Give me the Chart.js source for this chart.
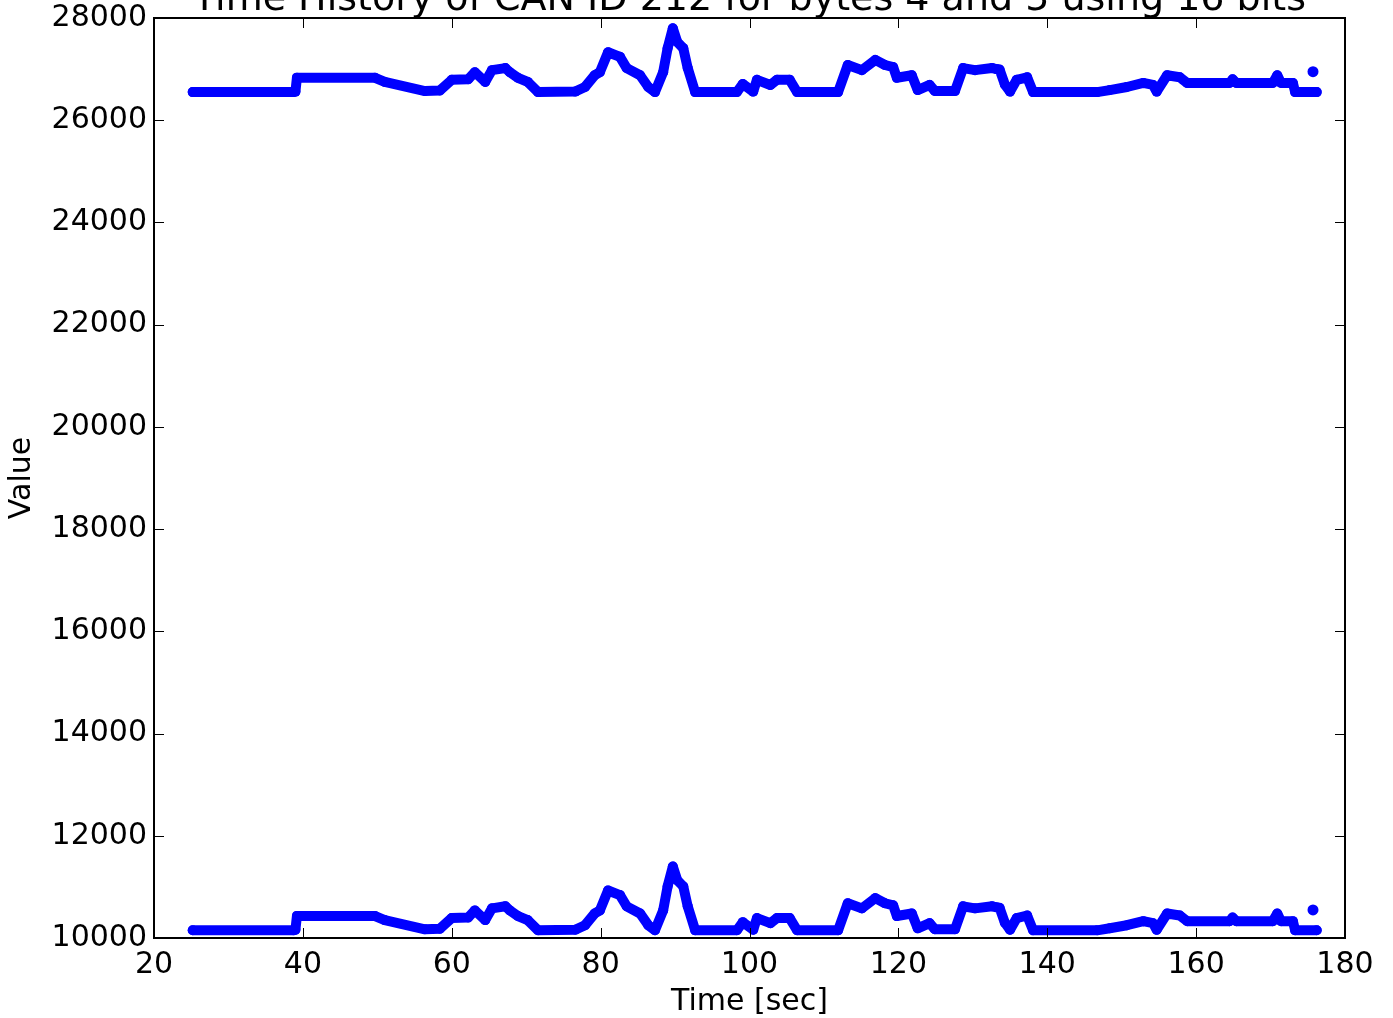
<!DOCTYPE html>
<html>
<head>
<meta charset="utf-8">
<script src="https://cdn.jsdelivr.net/npm/chart.js@4.4.1/dist/chart.umd.min.js"></script>
<style>
  html, body { margin: 0; padding: 0; background: #fff; }
  #wrap { width: 1393px; height: 1018px; }
</style>
</head>
<body>
<div id="wrap"><canvas id="chart"></canvas></div>
<script>
const chartTitle = "Time History of CAN ID 212 for bytes 4 and 5 using 16 bits";
const xTicks = [20, 40, 60, 80, 100, 120, 140, 160, 180];
const yTicks = [10000, 12000, 14000, 16000, 18000, 20000, 22000, 24000, 26000, 28000];

// time stamps (sec), shared by both bands
const times = [25.2, 38.7, 39.0, 39.2, 49.7, 51.0, 56.4, 58.4, 60.0, 62.2, 63.1, 64.5, 65.4, 67.2,
  67.8, 68.9, 70.2, 71.6, 76.6, 77.9, 79.2, 79.9, 81.0, 82.6, 83.5, 85.3, 86.4, 87.3, 88.4,
  89.0, 89.7, 90.3, 91.1, 91.7, 92.7, 98.3, 99.1, 100.5, 101.0, 102.8, 103.7, 105.4, 106.4,
  111.9, 113.2, 115.1, 116.9, 118.2, 119.3, 119.8, 121.8, 122.6, 124.2, 124.9, 127.6, 128.7,
  130.3, 132.6, 133.2, 133.6, 134.3, 135.0, 135.9, 137.3, 138.1, 146.7, 148.4, 150.7, 152.9,
  154.2, 154.7, 156.1, 157.8, 158.8, 164.5, 164.9, 165.4, 170.3, 170.9, 171.4, 173.0, 173.3, 176.2];

const upperValues = [26550, 26550, 26560, 26830, 26830, 26750, 26570, 26580, 26790, 26800, 26940, 26750, 26980, 27020,
  26940, 26830, 26750, 26550, 26560, 26650, 26880, 26940, 27330, 27240, 27020, 26880, 26650, 26550, 26940,
  27410, 27800, 27530, 27410, 27020, 26550, 26550, 26710, 26560, 26790, 26690, 26790, 26790, 26550,
  26550, 27080, 26980, 27180, 27080, 27040, 26830, 26880, 26590, 26690, 26570, 26570, 27020,
  26980, 27020, 27000, 26990, 26700, 26560, 26790, 26840, 26550, 26550, 26590, 26650, 26730,
  26690, 26560, 26880, 26840, 26730, 26730, 26800, 26730, 26730, 26880, 26730, 26730, 26550, 26550];

const lowerValues = [10150, 10150, 10160, 10430, 10430, 10350, 10170, 10180, 10390, 10400, 10540, 10350, 10580, 10620,
  10540, 10430, 10350, 10150, 10160, 10250, 10480, 10540, 10930, 10840, 10620, 10480, 10250, 10150, 10540,
  11010, 11400, 11130, 11010, 10620, 10150, 10150, 10310, 10160, 10390, 10290, 10390, 10390, 10150,
  10150, 10680, 10580, 10780, 10680, 10640, 10430, 10480, 10190, 10290, 10170, 10170, 10620,
  10580, 10620, 10600, 10590, 10300, 10160, 10390, 10440, 10150, 10150, 10190, 10250, 10330,
  10290, 10160, 10480, 10440, 10330, 10330, 10400, 10330, 10330, 10480, 10330, 10330, 10150, 10150];

// lone samples at the very end
const endTimes = [175.7];
const upperEnd = [26950];
const lowerEnd = [10550];

const blue = "#0000ff";
const font = "'DejaVu Sans', sans-serif";

function lineSet(vals) {
  return {
    data: times.map((t, i) => ({ x: t, y: vals[i] })),
    borderColor: blue,
    backgroundColor: blue,
    borderWidth: 10,
    borderCapStyle: "round",
    borderJoinStyle: "round",
    pointRadius: 5,
    pointBorderWidth: 0,
    tension: 0
  };
}
function dotSet(vals) {
  return {
    data: endTimes.map((t, i) => ({ x: t, y: vals[i] })),
    showLine: false,
    backgroundColor: blue,
    borderColor: blue,
    pointRadius: 5.5,
    pointBorderWidth: 0
  };
}

// box, inward ticks on all four sides, and the clipped title
const frame = {
  id: "frame",
  afterDraw(chart) {
    const { ctx, chartArea: a, scales } = chart;
    ctx.save();
    ctx.strokeStyle = "#000";
    ctx.lineWidth = 1;
    ctx.beginPath();
    xTicks.forEach(v => {
      const px = Math.round(scales.x.getPixelForValue(v)) + 0.5;
      ctx.moveTo(px, a.bottom); ctx.lineTo(px, a.bottom - 10);
      ctx.moveTo(px, a.top); ctx.lineTo(px, a.top + 10);
    });
    yTicks.forEach(v => {
      const py = Math.round(scales.y.getPixelForValue(v)) + 0.5;
      ctx.moveTo(a.left, py); ctx.lineTo(a.left + 10, py);
      ctx.moveTo(a.right, py); ctx.lineTo(a.right - 10, py);
    });
    ctx.stroke();
    ctx.lineWidth = 2;
    ctx.strokeRect(a.left, a.top, a.right - a.left, a.bottom - a.top);
    ctx.fillStyle = "#000";
    ctx.font = "38px " + font;
    ctx.textAlign = "center";
    ctx.textBaseline = "alphabetic";
    ctx.fillText(chartTitle, (a.left + a.right) / 2, 10);
    ctx.restore();
  }
};

new Chart(document.getElementById("chart").getContext("2d"), {
  type: "line",
  data: {
    datasets: [lineSet(upperValues), lineSet(lowerValues), dotSet(upperEnd), dotSet(lowerEnd)]
  },
  options: {
    responsive: true,
    maintainAspectRatio: false,
    animation: false,
    layout: { padding: { top: 18, right: 48, left: 0, bottom: 0 } },
    plugins: { legend: { display: false }, tooltip: { enabled: false }, title: { display: false } },
    scales: {
      x: {
        type: "linear",
        min: 20, max: 180,
        afterFit: s => { s.height = 80; },
        afterBuildTicks: s => { s.ticks = xTicks.map(v => ({ value: v })); },
        grid: { display: false, drawTicks: false },
        border: { display: false },
        ticks: { color: "#000", font: { family: font, size: 30 }, padding: 9, maxRotation: 0 },
        title: { display: true, text: "Time [sec]", color: "#000", font: { family: font, size: 30 }, padding: { top: 0, bottom: -2 } }
      },
      y: {
        min: 10000, max: 28000,
        afterFit: s => { s.width = 154; },
        afterBuildTicks: s => { s.ticks = yTicks.map(v => ({ value: v })); },
        grid: { display: false, drawTicks: false },
        border: { display: false },
        ticks: { color: "#000", font: { family: font, size: 30, lineHeight: 0.7 }, padding: 7, callback: v => String(v) },
        title: { display: true, text: "Value", color: "#000", font: { family: font, size: 30 }, padding: { top: 4 } }
      }
    }
  },
  plugins: [frame]
});
</script>
</body>
</html>
